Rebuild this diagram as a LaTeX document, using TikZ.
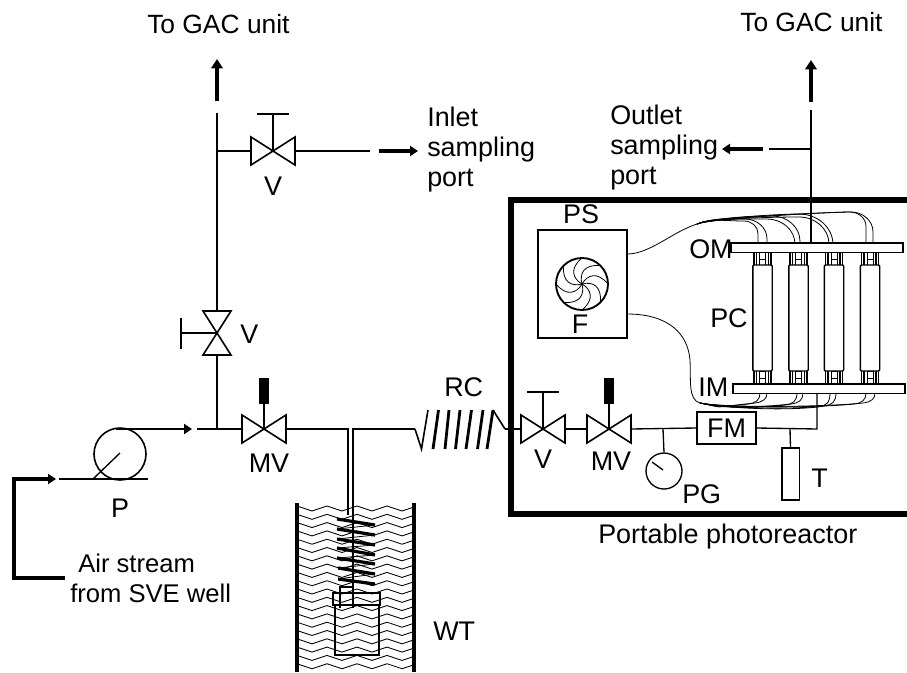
\documentclass[tikz,border=0pt]{standalone}
\usepackage{fontspec}
\setmainfont{Liberation Sans}
\usetikzlibrary{arrows.meta}
\tikzset{
  x=0.75pt,y=-0.75pt,
  pipe/.style={line width=1pt,line join=miter},
  thin wire/.style={line width=0.6pt},
  flow/.style={line width=2.7pt,-{Triangle[length=7pt,width=8.5pt]}},
  flowsmall/.style={line width=2.5pt,-{Triangle[length=6pt,width=7.5pt]}},
  lbl/.style={font=\fontsize{20.2}{22.5}\selectfont,inner sep=0pt,anchor=base west},
  multi/.style={font=\fontsize{20.2}{22.5}\selectfont,inner sep=0pt,anchor=west,align=left},
  boxed/.style={draw,line width=1.5pt,inner sep=0pt,fill=white},
  lampbody/.style={draw,line width=1pt,fill=white,rounded corners=0.8pt,minimum width=14.5pt,minimum height=79.5pt,inner sep=0pt},
  bowtie/.style={line width=1.2pt,fill=white,line join=miter},
  wave/.style={line width=0.65pt},
  coilbar/.style={line width=2.4pt},
}
\newcommand{\valveH}[3]{%
  \coordinate (#1) at (#2,#3);
  \coordinate (#1-l) at (#2-22,#3);
  \coordinate (#1-r) at (#2+22,#3);
  \draw[bowtie] (#2-22,#3-14) -- (#2+22,#3+14) -- (#2+22,#3-14) -- (#2-22,#3+14) -- cycle;
}
\newcommand{\valveV}[3]{%
  \coordinate (#1) at (#2,#3);
  \coordinate (#1-t) at (#2,#3-22);
  \coordinate (#1-b) at (#2,#3+22);
  \draw[bowtie] (#2-14,#3-22) -- (#2+14,#3+22) -- (#2-14,#3+22) -- (#2+14,#3-22) -- cycle;
}
\newcommand{\handwheel}[3]{% valve name, x, y
  \coordinate (#1-bar) at (#2,#3-37);
  \draw[pipe] (#1) -- (#1-bar);
  \draw[line width=1.5pt] (#2-16,#3-37) -- (#2+16,#3-37);
}
\newcommand{\actuator}[3]{%
  \node[fill=black,inner sep=0pt,minimum width=7pt,minimum height=19.5pt] (#1-act) at (#2,#3-38) {};
  \draw[pipe] (#1) -- (#1-act);
}
\newcommand{\lamp}[2]{%
  \foreach \s in {-1,1}{
    \draw[line width=0.8pt] (#1+\s*8.5,252) -- (#1+\s*8.5,265);
    \draw[line width=0.8pt] (#1+\s*6,252) -- (#1+\s*6,265);
    \draw[line width=0.6pt] (#1+\s*3,252) -- (#1+\s*3,259);
    \draw[line width=0.8pt] (#1+\s*8.5,371) -- (#1+\s*8.5,384);
    \draw[line width=0.8pt] (#1+\s*6,371) -- (#1+\s*6,384);
    \draw[line width=0.6pt] (#1+\s*3,378) -- (#1+\s*3,384);
  }
  \draw[line width=0.6pt] (#1-3,259) rectangle (#1+3,265);
  \draw[line width=0.6pt] (#1-3,371) rectangle (#1+3,378);
  \node[lampbody] (#2) at (#1,318) {};
}
\begin{document}
\begin{tikzpicture}
\useasboundingbox (0,0) rectangle (907,672);
\clip (0,0) rectangle (907,672);

% ---- tank
\foreach \Y in {508.5,516.8,...,669}{
  \draw[wave] (297,\Y-2.5) -- (312,\Y+2.5) -- (327,\Y-2.5) -- (342,\Y+2.5) -- (357,\Y-2.5)
     -- (372,\Y+2.5) -- (387,\Y-2.5) -- (402,\Y+2.5) -- (414,\Y-1.5);
}
\draw[line width=2.7pt] (297,503) -- (297,672);
\draw[line width=2.7pt] (414,503) -- (414,672);

% ---- bottle in tank
\draw[pipe] (335,605) rectangle (379,655);
\draw[pipe] (333,593) rectangle (380,605);
\draw[pipe] (340,608) -- (340,587) -- (353,587);

% ---- coil in tank
\coordinate (tA) at (348,515);
\coordinate (tB) at (353,608);
\foreach \a/\b/\c/\d/\e/\f in {
 337/519/375/525/337/529,
 337/529/375/535/337/539,
 337/539/375/545/337/548,
 337/548/375/555/337/558,
 337/558/375/564/338/568,
 338/568/375/574/338/579}{
  \draw[coilbar] (\a,\b) -- (\c,\d);
  \draw[thin wire] (\c,\d) -- (\e,\f);
}
\draw[coilbar] (338,579) -- (375,584);

% ---- main vertical line and top arrows
\coordinate (j1) at (217,429);
\coordinate (j2) at (217,151);
\coordinate (topL) at (217,113);
\coordinate (tipL) at (217,59);
\coordinate (tailL) at (217,101);
\draw[flow] (tailL) -- (tipL);
\draw[pipe] (topL) -- (j1);

\valveH{v1}{273}{151}
\handwheel{v1}{273}{151}
\draw[pipe] (j2) -- (v1-l);
\coordinate (v1end) at (370,151);
\draw[pipe] (v1-r) -- (v1end);
\coordinate (a1s) at (379,151);
\coordinate (a1e) at (418,151);
\draw[flowsmall] (a1s) -- (a1e);

\valveV{v2}{217}{333}
\coordinate (v2bar) at (181,333);
\draw[pipe] (v2) -- (v2bar);
\draw[line width=1.5pt] (181,318) -- (181,349);

% ---- pump
\node[draw,circle,line width=1.2pt,minimum size=39pt,inner sep=0pt] (pump) at (120,454) {};
\coordinate (pT) at (116,429);
\coordinate (pArrow) at (192,429);
\draw[line width=1.5pt,-{Triangle[length=6pt,width=7.5pt]}] (pT) -- (pArrow);
\coordinate (pL) at (59,479);
\coordinate (pR) at (148,479);
\draw[pipe] (pL) -- (pR);
\coordinate (pN) at (120,453);
\coordinate (pF) at (93,479);
\draw[pipe] (pN) -- (pF);
\coordinate (inS) at (65,578);
\coordinate (inC) at (14,578);
\coordinate (inD) at (14,479);
\coordinate (inE) at (56,479);
\draw[line width=2.7pt,line join=miter,-{Triangle[length=6pt,width=7.5pt]}] (inS) -- (inC) -- (inD) -- (inE);

% ---- feed line
\coordinate (feed) at (197,429);
\valveH{mv1}{264}{429}
\actuator{mv1}{264}{429}
\draw[pipe] (feed) -- (mv1-l);
\coordinate (d1) at (348,429);
\coordinate (d2) at (353,429);
\draw[pipe] (mv1-r) -- (d1) -- (tA);
\coordinate (rc0) at (415,429);
\draw[pipe] (tB) -- (d2) -- (rc0);

% ---- reaction coil
\coordinate (rc1) at (505,429);
\draw[pipe,line width=1.2pt] (rc0) -- (421.5,449) -- (428,410);
\foreach \b/\t in {433/438.5,445/449,455.5/460,466/471.5,477.5/483,487/493}{
  \draw[line width=2.1pt] (\b,449) -- (\t,410);
}
\draw[pipe,line width=1.2pt] (493,410) -- (rc1);

% ---- frame
\draw[line width=3.8pt] (920,200) -- (511,200) -- (511,514) -- (920,514);

\valveH{v3}{543}{429}
\handwheel{v3}{543}{429}
\draw[pipe] (rc1) -- (v3-l);
\valveH{mv2}{609}{429}
\actuator{mv2}{609}{429}
\draw[pipe] (v3-r) -- (mv2-l);

\node[boxed,minimum width=44.5pt,minimum height=24pt] (fm) at (726.5,428) {\fontsize{20.2}{22.5}\selectfont FM};
\draw[pipe] (mv2-r) -- (fm.west);
\coordinate (pgT) at (663,429);
\node[draw,circle,line width=1pt,minimum size=27pt,inner sep=0pt] (pg) at (664,471) {};
\draw[pipe] (pgT) -- (pg.north);
\coordinate (pgN1) at (652,462);
\coordinate (pgN2) at (663,470);
\draw[pipe] (pgN1) -- (pgN2);
\coordinate (imJ) at (817,429);
\coordinate (imT) at (817,393);
\draw[pipe] (fm.east) -- (imJ) -- (imT);
\coordinate (tJ) at (790,429);
\node[draw,line width=1pt,minimum width=13pt,minimum height=39pt,inner sep=0pt] (temp) at (790.5,474) {};
\draw[pipe] (tJ) -- (temp.north);

% ---- right top
\coordinate (tipR) at (811,60);
\coordinate (tailR) at (811,102);
\draw[flow] (tailR) -- (tipR);
\coordinate (topR) at (811,110);
\coordinate (omT) at (811,243);
\draw[pipe] (topR) -- (omT);
\coordinate (jR) at (811,149);
\coordinate (a2s) at (769,149);
\draw[pipe] (jR) -- (a2s);
\coordinate (a3s) at (763,149);
\coordinate (a3e) at (722,149);
\draw[flowsmall] (a3s) -- (a3e);

% ---- power supply and fan
\node[boxed,minimum width=66.5pt,minimum height=81pt] (ps) at (582.5,284) {};
\node[draw,circle,line width=1.4pt,minimum size=39pt,inner sep=0pt] (fan) at (582,284) {};
\begin{scope}[shift={(fan.center)}]
  \foreach \a in {0,45,...,315}{
    \draw[line width=0.6pt] (0pt,0pt) .. controls (\a+60:8pt) and (\a+40:15pt) .. (\a:19.5pt);
  }
\end{scope}

% ---- wires
\coordinate (psT) at (627,254);
\coordinate (psB) at (627,314);
\coordinate (wT) at (697,224);
\coordinate (wB) at (700,403);
\draw[thin wire] (psT) .. controls (650,254) and (672,232) .. (wT);
\draw[thin wire] (psB) .. controls (670,314) and (688,335) .. (690,360) .. controls (691,380) and (688,400) .. (wB);
\foreach \E/\P/\R in {758/221/14,767/219/22,795/219/28,800/216/28,833/214/34,829/217/30,866/212/16,873/212/22}{
  \draw[thin wire] (wT) .. controls (712,218) and (\E-\R-20,\P) .. (\E-\R,\P)
     .. controls (\E-0.45*\R,\P) and (\E,\P+0.4*\R) .. (\E,\P+0.9*\R) -- (\E,243);
}
\foreach \E/\P in {760/403,767/402,797/404,803/403,830/406,836/405,866/403,875/402}{
  \draw[thin wire] (wB) .. controls (725,408) and (\E-50,\P+5) .. (\E-12,\P+1)
     .. controls (\E-4,\P) and (\E,\P-3) .. (\E,393);
}

% ---- manifolds and lamps
\lamp{762.5}{pc1}
\lamp{798.5}{pc2}
\lamp{834}{pc3}
\lamp{870}{pc4}
\node[draw,line width=1pt,fill=white,minimum width=129pt,minimum height=7pt,inner sep=0pt] (om) at (817,247.5) {};
\node[draw,line width=1pt,fill=white,minimum width=129pt,minimum height=7pt,inner sep=0pt] (im) at (819,388.5) {};

% ---- labels
\node[lbl,font=\fontsize{19.8}{22.5}\selectfont] (l1) at (147,33) {To GAC unit};
\node[lbl,font=\fontsize{19.8}{22.5}\selectfont] (l2) at (740,31) {To GAC unit};
\node[multi] (l3) at (427,150) {Inlet\\sampling\\port};
\node[multi] (l4) at (610,147.5) {Outlet\\sampling\\port};
\node[lbl,anchor=base] (l5) at (273,195) {V};
\node[lbl] (l6) at (240,343) {V};
\node[lbl,anchor=base] (l7) at (269,472) {MV};
\node[lbl,anchor=base] (l8) at (120,517) {P};
\node[multi,font=\fontsize{19.2}{22.5}\selectfont] (l9) at (70,578) {\hspace*{6pt}Air stream\\from SVE well};
\node[lbl] (l10) at (433,640) {WT};
\node[lbl] (l11) at (444,396) {RC};
\node[lbl,anchor=base] (l12) at (543,468) {V};
\node[lbl,anchor=base] (l13) at (611,470) {MV};
\node[lbl] (l14) at (682,503) {PG};
\node[lbl] (l15) at (811,487) {T};
\node[lbl] (l16) at (598,543) {Portable photoreactor};
\node[lbl,anchor=base] (l17) at (581,223) {PS};
\node[lbl,anchor=base] (l18) at (580,333) {F};
\node[lbl] (l19) at (689,258) {OM};
\node[lbl] (l20) at (698,396) {IM};
\node[lbl] (l21) at (710,327) {PC};
\end{tikzpicture}
\end{document}
